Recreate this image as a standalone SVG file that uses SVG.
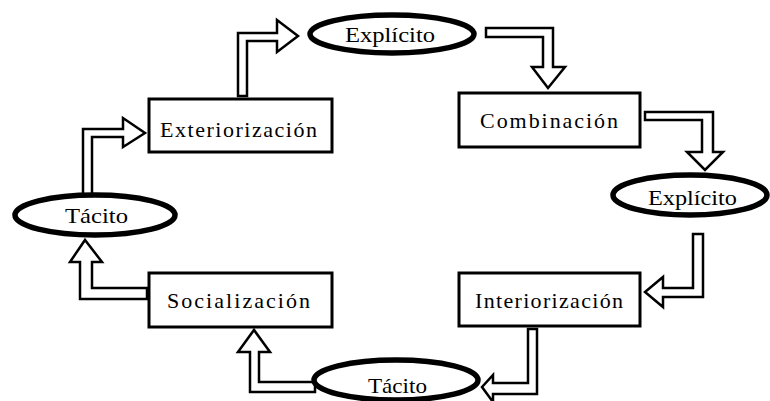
<svg xmlns="http://www.w3.org/2000/svg" width="770" height="401" viewBox="0 0 770 401">
<style>
.box{fill:#fff;stroke:#000;stroke-width:3}
.ell{fill:#fff;stroke:#000;stroke-width:5.5}
.arr{fill:#fff;stroke:#000;stroke-width:2.5;stroke-linejoin:miter}
.t{font-family:"Liberation Serif","Times New Roman",serif;font-size:22px;fill:#000}
</style>
<rect width="770" height="401" fill="#fff"/>
<g id="connectors">
<polygon class="arr" points="83,195 83,129 123,129 123,118 145,133 123,147 123,137 92,137 92,195"/>
<polygon class="arr" points="238,96 238,33 277,33 277,20 298,36 277,52 277,41 247,41 247,96"/>
<polygon class="arr" points="486,28 553,28 553,67 565,67 548,88 532,67 543,67 543,37 486,37"/>
<polygon class="arr" points="645,112 713,112 713,152 723,152 705,170 687,152 702,152 702,120 645,120"/>
<polygon class="arr" points="693,234 703,234 703,297 663,297 663,307 645,292 663,277 663,288 693,288"/>
<polygon class="arr" points="528,329 537,329 537,394 493,394 493,402 482,387 493,375 493,383 528,383"/>
<polygon class="arr" points="315,382 259,382 259,352 270,352 254,330 238,352 250,352 250,392 315,392"/>
<polygon class="arr" points="147,288 92,288 92,262 102,262 85,240 70,262 80,262 80,299 147,299"/>
</g>
<g id="explicito-top">
<ellipse class="ell" cx="392" cy="34" rx="82" ry="19"/>
<text class="t" x="345" y="42" textLength="90" lengthAdjust="spacingAndGlyphs">Explícito</text>
</g>
<g id="exteriorizacion">
<rect class="box" x="149" y="99" width="183" height="53"/>
<text class="t" x="160" y="137" textLength="157" lengthAdjust="spacing">Exteriorización</text>
</g>
<g id="combinacion">
<rect class="box" x="459" y="93" width="181" height="54"/>
<text class="t" x="480" y="128" textLength="138" lengthAdjust="spacing">Combinación</text>
</g>
<g id="explicito-right">
<ellipse class="ell" cx="690" cy="195" rx="77" ry="20"/>
<text class="t" x="648" y="205" textLength="89" lengthAdjust="spacingAndGlyphs">Explícito</text>
</g>
<g id="interiorizacion">
<rect class="box" x="459" y="273" width="181" height="53"/>
<text class="t" x="475" y="308" textLength="148" lengthAdjust="spacing">Interiorización</text>
</g>
<g id="tacito-bottom">
<ellipse class="ell" cx="396" cy="380" rx="82" ry="20"/>
<text class="t" x="368" y="393" textLength="59" lengthAdjust="spacingAndGlyphs">Tácito</text>
</g>
<g id="socializacion">
<rect class="box" x="149" y="273" width="183" height="54"/>
<text class="t" x="167" y="308" textLength="143" lengthAdjust="spacing">Socialización</text>
</g>
<g id="tacito-left">
<ellipse class="ell" cx="95" cy="215" rx="80" ry="20"/>
<text class="t" x="65" y="223" textLength="63" lengthAdjust="spacingAndGlyphs">Tácito</text>
</g>
</svg>
